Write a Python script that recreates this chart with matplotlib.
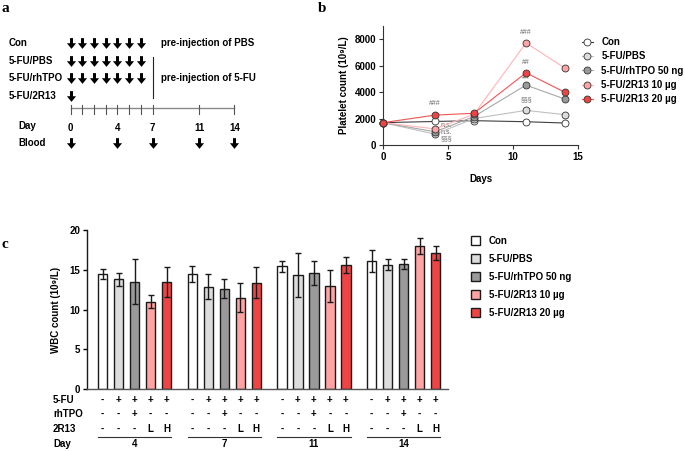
import matplotlib.pyplot as plt
import numpy as np
from matplotlib.path import Path

plt.rcParams['font.family'] = ['Liberation Sans', 'DejaVu Sans']
plt.rcParams['font.weight'] = 'bold'
plt.rcParams['font.size'] = 7
plt.rcParams['axes.labelweight'] = 'bold'

W, H = 685, 451

# panel a: injection schedule
schedule_labels = ['Con', '5-FU/PBS', '5-FU/rhTPO', '5-FU/2R13']
schedule_days = [[0, 1, 2, 3, 4, 5, 6], [0, 1, 2, 3, 4, 5, 6], [0, 1, 2, 3, 4, 5, 6], [0]]
timeline_ticks = [0, 1, 2, 3, 4, 5, 6, 7, 11, 14]
blood_days = [0, 4, 7, 11, 14]

# panel b: platelet counts
days = [0, 4, 7, 11, 14]
groups = ['Con', '5-FU/PBS', '5-FU/rhTPO 50 ng', '5-FU/2R13 10 µg', '5-FU/2R13 20 µg']
plt_con = [1690, 1780, 1840, 1760, 1660]
plt_pbs = [1690, 820, 2000, 2620, 2290]
plt_tpo = [1690, 1000, 2150, 4530, 3470]
plt_low = [1690, 1220, 2330, 7720, 5810]
plt_high = [1690, 2260, 2400, 5460, 3980]
# significance marks: centred above day points, plus the stacked ones beside day 4
sig_top_text = ['###', '###', '##', '***', '§§§']
sig_top_day = [4, 11, 11, 11, 11]
sig_top_y = [3150, 8540, 6270, 4990, 3400]
sig_side_text = ['n.s.', 'n.s.', '§§§']
sig_side_y = [1510, 980, 450]

# panel c: WBC counts (mean, sd) at days 4, 7, 11, 14
wbc_days = ['4', '7', '11', '14']
con_mean = [14.5, 14.45, 15.45, 16.1]
con_err = [0.6, 1.0, 0.7, 1.35]
pbs_mean = [13.8, 12.9, 14.4, 15.65]
pbs_err = [0.85, 1.6, 2.75, 0.65]
tpo_mean = [13.5, 12.6, 14.6, 15.75]
tpo_err = [2.85, 1.2, 1.45, 0.6]
low_mean = [11.0, 11.5, 12.95, 18.0]
low_err = [0.85, 1.85, 2.0, 1.0]
high_mean = [13.5, 13.4, 15.6, 17.1]
high_err = [1.85, 2.0, 1.05, 0.9]
fu_row = ['-', '+', '+', '+', '+']
tpo_row = ['-', '-', '+', '-', '-']
r13_row = ['-', '-', '-', 'L', 'H']

line_colors = ['#404040', '#c0c0c0', '#a8a8a8', '#ffb4b4', '#f05555']
fill_colors = ['#ffffff', '#dcdcdc', '#9a9a9a', '#ffa3a3', '#f04444']

fig = plt.figure(figsize=(W / 100, H / 100), dpi=100)

# ---- panel a ----
arrow = Path([(-0.28, 1), (0.28, 1), (0.28, 0.05), (0.85, 0.05), (0, -1),
              (-0.85, 0.05), (-0.28, 0.05), (-0.28, 1)], closed=True)
px_day = 11.7
ax_a = fig.add_axes([0, 1 - 160 / H, 260 / W, 160 / H])
ax_a.set_xlim(-70.7 / px_day, (260 - 70.7) / px_day)
ax_a.set_ylim(160, 0)
ax_a.axis('off')
row_y = [43.3, 61, 78.3, 96]
for lab, dd, y in zip(schedule_labels, schedule_days, row_y):
    ax_a.text(-5.27, y, lab, ha='left', va='center')
    ax_a.scatter(dd, [y] * len(dd), marker=arrow, s=60, color='black', lw=0)
ax_a.text(7.75, row_y[0], 'pre-injection of PBS', ha='left', va='center')
ax_a.text(7.75, row_y[2], 'pre-injection of 5-FU', ha='left', va='center')
ax_a.plot([7, 7], [56.7, 98.3], color='#222222', lw=0.8)
ax_a.plot([0, 14], [108.3, 108.3], color='#8a8a8a', lw=1)
for d in timeline_ticks:
    ax_a.plot([d, d], [104.5, 113.5], color='#555555', lw=0.8)
ax_a.text(-4.5, 126, 'Day', ha='left', va='center')
ax_a.text(-4.5, 143, 'Blood', ha='left', va='center')
for d in blood_days:
    ax_a.text(d, 128, str(d), ha='center', va='center')
ax_a.scatter(blood_days, [143] * len(blood_days), marker=arrow, s=60, color='black', lw=0)

# ---- panel b ----
ax_b = fig.add_axes([383 / W, 1 - 145 / H, 195 / W, 119 / H])
series = [plt_con, plt_pbs, plt_tpo, plt_low, plt_high]
for i, (vals, lab) in enumerate(zip(series, groups)):
    ax_b.plot(days, vals, color=line_colors[i], lw=0.8, marker='o', ms=5,
              mfc=fill_colors[i], mec='#333333', mew=0.6, label=lab,
              clip_on=False, zorder=3 + i)
for t, d, y in zip(sig_top_text, sig_top_day, sig_top_y):
    ax_b.text(d, y, t, ha='center', va='center', fontsize=5,
              fontweight='normal', color='#666666')
for t, y in zip(sig_side_text, sig_side_y):
    ax_b.text(days[1] + 0.45, y, t, ha='left', va='center', fontsize=5,
              fontweight='normal', color='#666666')
ax_b.set_xlim(0, 15)
ax_b.set_ylim(0, 9000)
ax_b.set_xticks([0, 5, 10, 15])
ax_b.set_yticks([0, 2000, 4000, 6000, 8000])
ax_b.set_xlabel('Days', labelpad=9)
ax_b.set_ylabel('Platelet count (10⁹/L)', labelpad=4)
for s in ['top', 'right']:
    ax_b.spines[s].set_visible(False)
for s in ['left', 'bottom']:
    ax_b.spines[s].set_color('#333333')
    ax_b.spines[s].set_linewidth(0.8)
ax_b.tick_params(length=3, width=0.8, color='#333333', pad=2)
ax_b.legend(loc='upper left', bbox_to_anchor=(582 / W, 1 - 37 / H),
            bbox_transform=fig.transFigure, frameon=False, handlelength=1.1,
            handletextpad=0.9, labelspacing=0.45, borderpad=0, borderaxespad=0)

# ---- panel c ----
ax_c = fig.add_axes([87 / W, 1 - 389.3 / H, 361 / W, 159.3 / H])
group_gap = 5.6
bw = 0.58
means = [con_mean, pbs_mean, tpo_mean, low_mean, high_mean]
errs = [con_err, pbs_err, tpo_err, low_err, high_err]
for i in range(5):
    pos = np.arange(len(wbc_days)) * group_gap + i
    ax_c.bar(pos, means[i], bw, color=fill_colors[i], edgecolor='#1a1a1a',
             lw=1, label=groups[i], zorder=2)
    ax_c.errorbar(pos, means[i], yerr=errs[i], fmt='none', ecolor='#1a1a1a',
                  elinewidth=1, capsize=2.2, capthick=1, zorder=3)
ax_c.set_xlim(-0.98, 21.58)
ax_c.set_ylim(0, 20)
ax_c.set_yticks([0, 5, 10, 15, 20])
ax_c.set_xticks([])
ax_c.set_ylabel('WBC count (10⁹/L)', labelpad=6)
for s in ['top', 'right']:
    ax_c.spines[s].set_visible(False)
ax_c.spines['left'].set_color('#1a1a1a')
ax_c.spines['bottom'].set_color('#555555')
ax_c.spines['left'].set_linewidth(1)
ax_c.spines['bottom'].set_linewidth(1)
ax_c.tick_params(axis='y', length=3, width=1, pad=2)

trans = ax_c.get_xaxis_transform()
rows_y = [-0.067, -0.157, -0.247]
for g, day in enumerate(wbc_days):
    base = g * group_gap
    for i in range(5):
        for row, ry in zip([fu_row, tpo_row, r13_row], rows_y):
            ax_c.text(base + i, ry, row[i], transform=trans, ha='center',
                      va='center', clip_on=False)
    ax_c.plot([base - bw / 2, base + 4 + bw / 2], [-0.298, -0.298], transform=trans,
              color='#333333', lw=0.8, clip_on=False)
    ax_c.text(base + 2, -0.345, day, transform=trans, ha='center', va='center')
for lab, ry in zip(['5-FU', 'rhTPO', '2R13', 'Day'], rows_y + [-0.345]):
    ax_c.text(-3.1, ry, lab, transform=trans, ha='left', va='center', clip_on=False)

ax_c.legend(loc='upper left', bbox_to_anchor=(471 / W, 1 - 236 / H),
            bbox_transform=fig.transFigure, frameon=False, handlelength=0.95,
            handleheight=0.95, handletextpad=0.9, labelspacing=0.82,
            borderpad=0, borderaxespad=0)

# panel letters
for letter, x, y in [('a', 2, 8), ('b', 318, 8), ('c', 2, 245)]:
    fig.text(x / W, 1 - y / H, letter, family=['Liberation Serif', 'DejaVu Serif'],
             fontsize=11, fontweight='bold', ha='left', va='center')

fig.savefig('out.png', dpi=100)
